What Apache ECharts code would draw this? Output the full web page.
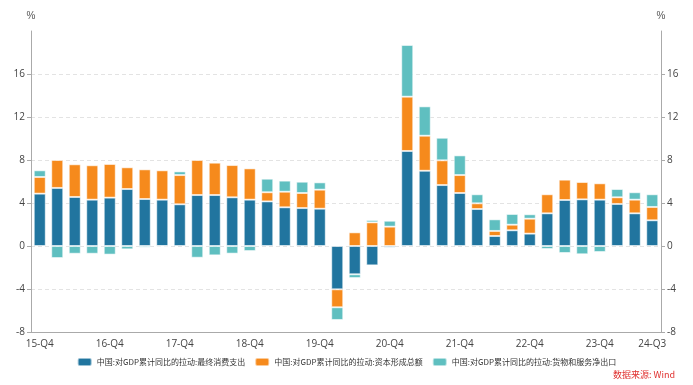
<!DOCTYPE html>
<html>
<head>
<meta charset="utf-8">
<script src="https://cdn.jsdelivr.net/npm/echarts@6/dist/echarts.min.js"></script>
<style>
html,body{margin:0;padding:0;background:#fff;}
#c{width:693px;height:385px;}
</style>
</head>
<body>
<div id="c"></div>
<script>
const categories = ["15-Q4",
 "16-Q1","16-Q2","16-Q3","16-Q4",
 "17-Q1","17-Q2","17-Q3","17-Q4",
 "18-Q1","18-Q2","18-Q3","18-Q4",
 "19-Q1","19-Q2","19-Q3","19-Q4",
 "20-Q1","20-Q2","20-Q3","20-Q4",
 "21-Q1","21-Q2","21-Q3","21-Q4",
 "22-Q1","22-Q2","22-Q3","22-Q4",
 "23-Q1","23-Q2","23-Q3","23-Q4",
 "24-Q1","24-Q2","24-Q3"];

const consumption = [4.87,
 5.40,4.56,4.31,4.50,
 5.30,4.37,4.31,3.88,
 4.74,4.74,4.53,4.31,
 4.15,3.60,3.53,3.47,
 -4.03,-2.63,-1.80,-0.15,
 8.84,7.00,5.67,4.93,
 3.44,0.93,1.46,1.15,
 3.04,4.28,4.34,4.31,
 3.91,3.04,2.39];

const capital = [1.55,
 2.60,3.04,3.20,3.13,
 2.02,2.76,2.73,2.72,
 3.26,3.01,3.00,2.91,
 0.85,1.45,1.40,1.77,
 -1.67,1.27,2.20,1.80,
 5.05,3.26,2.30,1.67,
 0.53,0.47,0.52,1.39,
 1.77,1.89,1.61,1.52,
 0.62,1.27,1.24];

const netExports = [0.62,
 -1.12,-0.72,-0.72,-0.80,
 -0.31,-0.15,-0.04,0.34,
 -1.09,-0.87,-0.71,-0.47,
 1.26,1.03,1.05,0.68,
 -1.18,-0.35,0.22,0.55,
 4.81,2.73,2.10,1.83,
 0.84,1.08,1.00,0.41,
 -0.28,-0.65,-0.77,-0.56,
 0.77,0.69,1.18];

const seriesNames = [
 "中国:对GDP累计同比的拉动:最终消费支出",
 "中国:对GDP累计同比的拉动:资本形成总额",
 "中国:对GDP累计同比的拉动:货物和服务净出口"
];
const yTicks = {min: -8, max: 20, interval: 4};
const colors = ["#21759f", "#f68a1c", "#5fbfc0"];

const chart = echarts.init(document.getElementById('c'), null, {renderer: 'canvas'});
const showIdx = (i) => i % 4 === 0 || i === categories.length - 1;

function yAxis(pos) {
  return {
    type: 'value', position: pos,
    min: yTicks.min, max: yTicks.max, interval: yTicks.interval,
    name: '%', nameLocation: 'end', nameGap: 10,
    nameTextStyle: {color: '#555', fontSize: 10, align: 'center'},
    axisLine: {show: true, lineStyle: {color: '#aaa', width: 1}},
    axisTick: {show: true, length: 4, lineStyle: {color: '#aaa'}},
    axisLabel: {color: '#444', fontSize: 10, margin: 6, showMaxLabel: false,
      fontFamily: 'Open Sans'},
    splitLine: {show: pos === 'left', showMaxLine: false,
      lineStyle: {color: '#e3e3e3', type: [4, 3], width: 1}}
  };
}

const itemStyleBase = {borderColor: 'rgba(255,255,255,0.55)', borderWidth: 1};

chart.setOption({
  animation: false,
  backgroundColor: '#fff',
  color: colors,
  grid: {left: 31, right: 32, top: 31, bottom: 53, containLabel: false},
  legend: {
    bottom: 13, left: 'center',
    itemWidth: 14, itemHeight: 8, itemGap: 9, icon: 'roundRect',
    textStyle: {color: '#333', fontSize: 8, fontFamily: 'Noto Sans CJK SC'},
    data: seriesNames
  },
  xAxis: {
    type: 'category', data: categories,
    axisLine: {onZero: false, lineStyle: {color: '#aaa'}},
    axisTick: {alignWithLabel: true, interval: (i) => showIdx(i), length: 4, lineStyle: {color: '#aaa'}},
    axisLabel: {interval: (i) => showIdx(i), color: '#444', fontSize: 10, margin: 7, fontFamily: 'Open Sans'}
  },
  yAxis: [yAxis('left'), yAxis('right')],
  graphic: [{
    type: 'text', right: 18, bottom: 6,
    style: {text: '数据来源: Wind', fill: '#e0312f', fontSize: 9, fontFamily: 'Noto Sans CJK SC'}
  }],
  series: [
    {name: seriesNames[0], type: 'bar', stack: 'g', data: consumption, barWidth: 12, itemStyle: itemStyleBase},
    {name: seriesNames[1], type: 'bar', stack: 'g', data: capital, barWidth: 12, itemStyle: itemStyleBase},
    {name: seriesNames[2], type: 'bar', stack: 'g', data: netExports, barWidth: 12, itemStyle: itemStyleBase}
  ]
});
</script>
</body>
</html>
